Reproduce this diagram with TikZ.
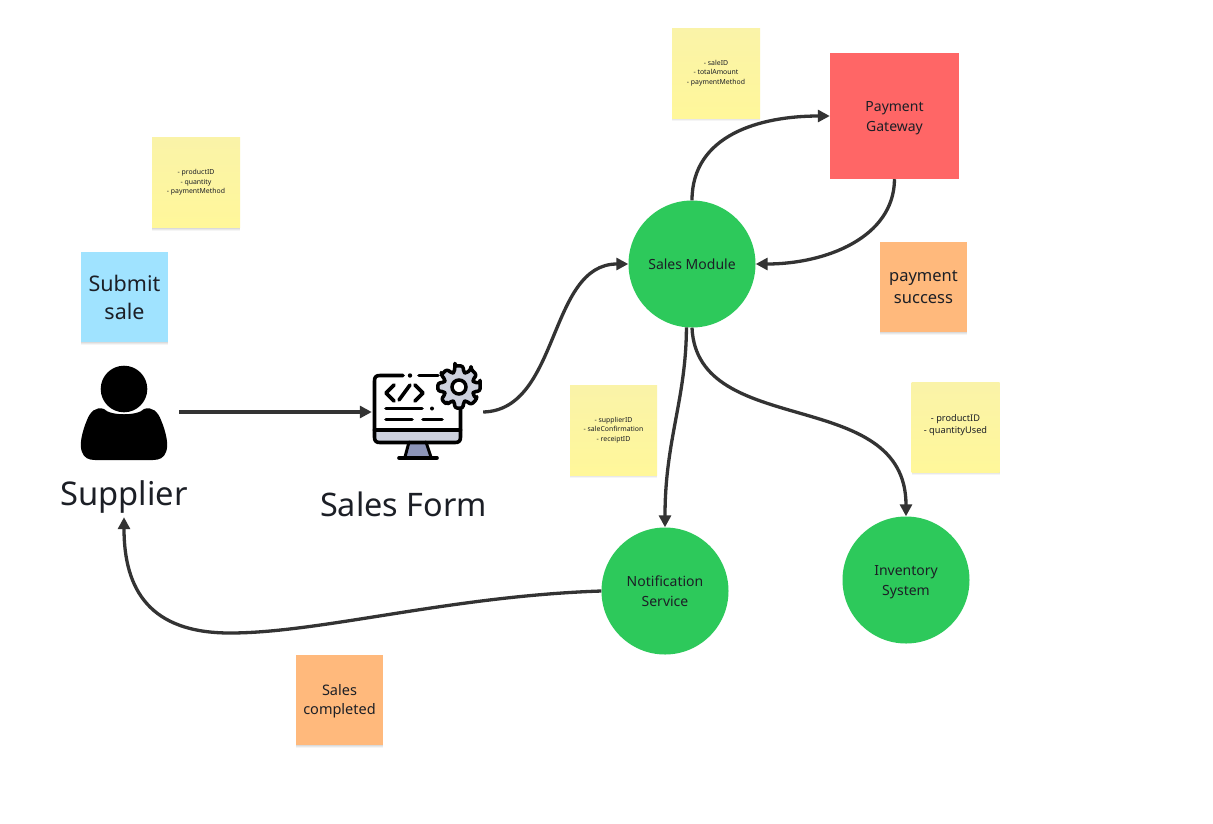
\documentclass[tikz,border=0pt]{standalone}
\usepackage{fontspec}
\setmainfont{Noto Sans}
\usetikzlibrary{arrows.meta,shadows,shapes.geometric}
\definecolor{ink}{HTML}{1C1F26}
\definecolor{conn}{HTML}{333333}
\definecolor{stickyYt}{HTML}{FAF3A8}
\definecolor{stickyYb}{HTML}{FFF79A}
\definecolor{stickyB}{HTML}{A0E3FF}
\definecolor{stickyO}{HTML}{FFB97C}
\definecolor{payred}{HTML}{FF6666}
\definecolor{modgreen}{HTML}{2DC95B}
\definecolor{gearfill}{HTML}{CDD1DE}
\definecolor{standfill}{HTML}{8C94B8}
\tikzset{
  x=1pt,y=-1pt,
  sticky/.style={rectangle,minimum width=87pt,minimum height=90pt,inner sep=1pt,align=center,text=ink,
    drop shadow={shadow xshift=0pt,shadow yshift=-3pt,opacity=.04,fill=black},
    drop shadow={shadow xshift=0pt,shadow yshift=-2pt,opacity=.05,fill=black},
    drop shadow={shadow xshift=0pt,shadow yshift=-1pt,opacity=.06,fill=black}},
  yellownote/.style={sticky,top color=stickyYt,bottom color=stickyYb,minimum width=88pt},
  smalltext/.style={font=\fontsize{6.9}{9.4}\selectfont},
  midtext/.style={font=\fontsize{14.5}{19}\selectfont},
  bigtext/.style={font=\fontsize{21.5}{28}\selectfont},
  module/.style={circle,fill=modgreen,minimum size=127pt,inner sep=0pt,align=center,text=ink,font=\fontsize{14}{20}\selectfont},
  link/.style={draw=conn,line width=3.3pt,-{Triangle[length=12pt,width=12pt]}},
  iconbox/.style={rectangle,inner sep=0pt},
  iconline/.style={line width=3.6pt,line cap=round,line join=round,draw=black},
}
\begin{document}
\begin{tikzpicture}
\useasboundingbox (0,0) rectangle (1213,823);
\fill[white] (0,0) rectangle (1213,823);

% sticky notes
\node[yellownote,smalltext] (n1) at (196,182.5) {- productID\\- quantity\\- paymentMethod};
\node[sticky,fill=stickyB,bigtext] (n2) at (124.5,297) {Submit\\sale};
\node[yellownote,smalltext] (n3) at (716,73) {- saleID\\- totalAmount\\- paymentMethod};
\node[sticky,fill=stickyO,font=\fontsize{16.5}{21.5}\selectfont] (n4) at (923.5,287) {payment\\success};
\node[yellownote,smalltext,minimum width=87pt] (n5) at (613.5,430) {- supplierID\\- saleConfirmation\\- receiptID};
\node[yellownote,font=\fontsize{9.2}{12}\selectfont] (n6) at (955.5,427) {- productID\\- quantityUsed\rule[-6pt]{0pt}{1pt}};
\node[sticky,fill=stickyO,midtext] (n7) at (339.5,700) {\rule{0pt}{13pt}Sales\\completed};

% modules
\node[rectangle,fill=payred,minimum width=129pt,minimum height=126pt,inner sep=0pt,align=center,text=ink,font=\fontsize{14}{20}\selectfont] (pay) at (894.5,116) {\rule{0pt}{14.4pt}Payment\\Gateway};
\node[module] (sm) at (692,264) {Sales Module};
\node[module] (ns) at (665,591) {Notification\\Service};
\node[module] (inv) at (906,580) {\rule{0pt}{14.4pt}Inventory\\System};

% icon frames and labels
\node[iconbox,minimum width=110pt,minimum height=96pt] (usericon) at (124,412) {};
\node[iconbox,minimum width=111pt,minimum height=100pt] (formicon) at (427.5,412) {};
\node[text=ink,font=\fontsize{32.7}{36}\selectfont,inner sep=0pt,minimum height=40pt] (sup) at (124,497) {Supplier};
\node[text=ink,font=\fontsize{32.4}{36}\selectfont,inner sep=0pt] (form) at (403.5,504) {Sales Form};

% person icon
\fill[black] (124,389) circle (23.3);
\fill[black] (104,409) .. controls (110,416) and (138,416) .. (144,409)
  .. controls (152,406) and (158,412) .. (161,420)
  .. controls (166,432) and (169,445) .. (166,452)
  .. controls (164,458) and (159,460) .. (153,460)
  -- (95,460) .. controls (89,460) and (84,458) .. (82,452)
  .. controls (79,445) and (82,432) .. (87,420)
  .. controls (90,412) and (96,406) .. (104,409) -- cycle;

% form icon
\fill[gearfill] (375,430) rectangle (459.5,441);
\fill[standfill] (409,442) -- (426,442) -- (431,457) -- (404,457) -- cycle;
\draw[iconline,line width=3pt] (409,442) -- (405,457) (426,442) -- (431,457);
\draw[iconline] (403,375.5) -- (380,375.5) .. controls (376,375.5) and (374.5,377) .. (374.5,381)
  -- (374.5,437) .. controls (374.5,441) and (376,442.5) .. (380,442.5)
  -- (455,442.5) .. controls (459,442.5) and (460.5,441) .. (460.5,437) -- (460.5,408);
\draw[iconline] (374.5,430) -- (460.5,430);
\draw[iconline] (419,375.5) -- (438,375.5);
\fill[black] (410,375.5) circle (2.2);
\draw[iconline] (399,458) -- (437,458);
\draw[iconline] (394,385) -- (386,393) -- (394,401);
\draw[iconline] (399,400) -- (410,385);
\draw[iconline] (415,385) -- (423,393) -- (415,401);
\draw[iconline] (386,408.5) -- (422,408.5);
\fill[black] (432,408.5) circle (2);
\draw[iconline] (386,419.5) -- (412,419.5) (423,419.5) -- (442,419.5);
\begin{scope}[shift={(459,387)}]
  \draw[fill=gearfill,draw=black,line width=3.5pt,line join=round,rounded corners=2.5pt]
    (-11:21.5) \foreach \a in {0,45,...,315} {
      -- (\a-11:21.5) -- (\a+11:21.5) -- (\a+17:15.5) -- (\a+28:15.5) -- (\a+34:21.5) }
    -- cycle;
  \draw[line width=3.5pt,draw=black,fill=white] (0,0) circle (7);
\end{scope}

% connectors
\draw[link] (usericon.east) -- (formicon.west);
\draw[link] (formicon.east) .. controls (560,410) and (548,264) .. (sm.west);
\draw[link] (sm.north) .. controls (692,135) and (760,116) .. (pay.west);
\draw[link] (pay.south) .. controls (894,238) and (825,264) .. (sm.east);
\draw[link] (sm.265) .. controls (686,400) and (665,440) .. (ns.north);
\draw[link] (sm.south) .. controls (697,440) and (906,385) .. (inv.north);
\draw[link] (ns.west) .. controls (450,596) and (320,633) .. (230,633)
  .. controls (150,633) and (124,590) .. (sup.south);
\end{tikzpicture}
\end{document}
